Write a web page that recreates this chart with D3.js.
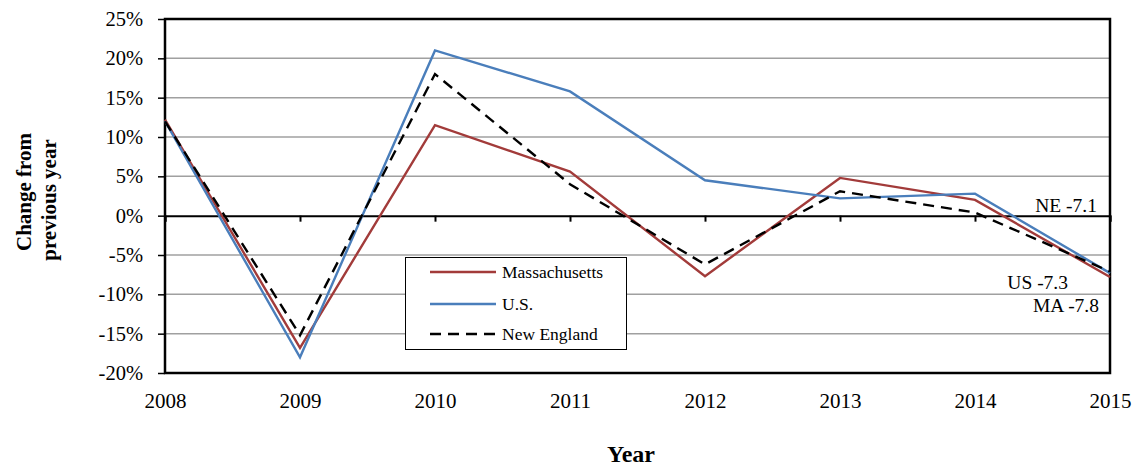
<!DOCTYPE html>
<html><head><meta charset="utf-8">
<script src="https://cdn.jsdelivr.net/npm/d3@7"></script>
<style>body{margin:0;background:#fff}svg{display:block}</style>
</head><body>
<svg id="c" width="1135" height="466"></svg>
<script>
const years = [2008, 2009, 2010, 2011, 2012, 2013, 2014, 2015];
const massachusetts = [12.2, -16.8, 11.5, 5.6, -7.7, 4.8, 2.0, -7.8];
const us = [12.0, -18.0, 21.0, 15.8, 4.5, 2.2, 2.8, -7.3];
const newEngland = [12.0, -15.2, 18.0, 4.0, -6.2, 3.1, 0.4, -7.1];
const yTicks = [25, 20, 15, 10, 5, 0, -5, -10, -15, -20];
const endLabels = [
  {text: "NE -7.1", value: -7.1},
  {text: "US -7.3", value: -7.3},
  {text: "MA -7.8", value: -7.8}
];

const svg = d3.select("#c");
const font = "'Liberation Serif','Times New Roman',serif";
const L = 165, R = 1110, T = 19, B = 373;
const x = d3.scaleLinear().domain([2008, 2015]).range([L, R]);
const y = d3.scaleLinear().domain([-20, 25]).range([B, T]);

// gridlines
svg.append("g").selectAll("line").data(yTicks.filter(d => d !== 0 && d !== 25 && d !== -20)).join("line")
  .attr("x1", L).attr("x2", R).attr("y1", d => y(d)).attr("y2", d => y(d))
  .attr("stroke", "#a0a0a0").attr("stroke-width", 1.5);

// y axis labels
const yAxis = d3.axisLeft(y).tickValues(yTicks).tickFormat(d => d + "%").tickSize(7).tickPadding(15);
const ya = svg.append("g").attr("transform", `translate(${L},0)`).call(yAxis);
ya.select(".domain").remove();
ya.selectAll("line").attr("stroke", "#000").attr("stroke-width", 1.5);
ya.selectAll("text").attr("font-family", font).attr("font-size", 20.5).attr("fill", "#000");

// x axis at zero with ticks
const xAxis0 = d3.axisBottom(x).tickValues(years).tickSize(6).tickFormat("");
const xa0 = svg.append("g").attr("transform", `translate(0,${y(0)})`).call(xAxis0);
xa0.select(".domain").attr("stroke", "#000").attr("stroke-width", 2);
xa0.selectAll("line").attr("stroke", "#000").attr("stroke-width", 2);

// x labels at bottom
const xAxisB = d3.axisBottom(x).tickValues(years).tickFormat(d3.format("d")).tickSize(0).tickPadding(20);
const xb = svg.append("g").attr("transform", `translate(0,${B})`).call(xAxisB);
xb.select(".domain").remove();
xb.selectAll("text").attr("font-family", font).attr("font-size", 21).attr("fill", "#000");

// plot border
svg.append("rect").attr("x", L).attr("y", T).attr("width", R - L).attr("height", B - T)
  .attr("fill", "none").attr("stroke", "#000").attr("stroke-width", 2.5);

const line = d3.line().x((d, i) => x(years[i])).y(d => y(d));
svg.append("path").datum(massachusetts).attr("d", line).attr("fill", "none")
  .attr("stroke", "#a23b3a").attr("stroke-width", 2.4);
svg.append("path").datum(us).attr("d", line).attr("fill", "none")
  .attr("stroke", "#4a7ebb").attr("stroke-width", 2.4);
svg.append("path").datum(newEngland).attr("d", line).attr("fill", "none")
  .attr("stroke", "#000").attr("stroke-width", 2.4).attr("stroke-dasharray", "11,7");

// end labels
const lblPos = [{x: 1097, y: 212}, {x: 1068, y: 289}, {x: 1099, y: 312}];
svg.append("g").selectAll("text").data(endLabels).join("text")
  .attr("x", (d, i) => lblPos[i].x).attr("y", (d, i) => lblPos[i].y)
  .attr("text-anchor", "end").attr("font-family", font).attr("font-size", 19.5)
  .text(d => d.text);

// legend
const lg = svg.append("g");
lg.append("rect").attr("x", 405.5).attr("y", 257.5).attr("width", 221).attr("height", 92)
  .attr("fill", "#fff").attr("stroke", "#000").attr("stroke-width", 1);
const legendItems = [
  {name: "Massachusetts", color: "#a23b3a", dash: null},
  {name: "U.S.", color: "#4a7ebb", dash: null},
  {name: "New England", color: "#000", dash: "11,7"}
];
const legendY = [272, 304, 334];
legendItems.forEach((d, i) => {
  const yy = legendY[i];
  lg.append("line").attr("x1", 430).attr("x2", 496).attr("y1", yy).attr("y2", yy)
    .attr("stroke", d.color).attr("stroke-width", 2.4).attr("stroke-dasharray", d.dash);
  lg.append("text").attr("x", 502).attr("y", yy + 5.5).attr("font-family", font)
    .attr("font-size", 17.5).text(d.name);
});

// axis titles
svg.append("text").attr("transform", "translate(31,192) rotate(-90)").attr("text-anchor", "middle")
  .attr("font-family", font).attr("font-size", 21).attr("font-weight", "bold").text("Change from");
svg.append("text").attr("transform", "translate(56,200) rotate(-90)").attr("text-anchor", "middle")
  .attr("font-family", font).attr("font-size", 21).attr("font-weight", "bold").text("previous year");
svg.append("text").attr("x", 631).attr("y", 462).attr("text-anchor", "middle")
  .attr("font-family", font).attr("font-size", 24).attr("font-weight", "bold").text("Year");
</script>
</body></html>
